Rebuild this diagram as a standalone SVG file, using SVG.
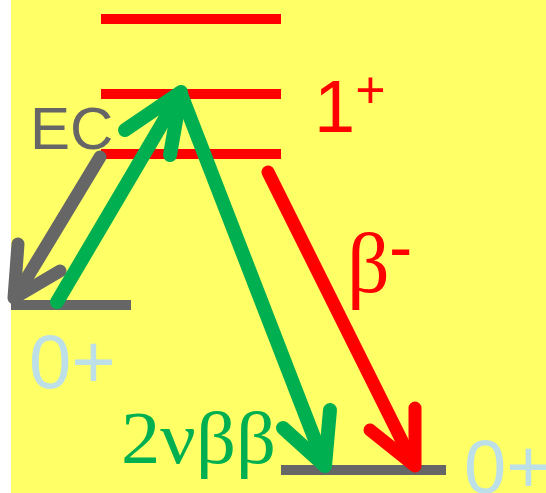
<svg xmlns="http://www.w3.org/2000/svg" width="546" height="493" viewBox="0 0 546 493">
<style>
.lvl{stroke-width:10;stroke-linecap:butt;fill:none}
.arr{stroke-width:13;stroke-linecap:round;stroke-linejoin:round;fill:none}
.grn{stroke-width:14}
.sans{font-family:"Liberation Sans",Arial,sans-serif}
.serif{font-family:"Liberation Serif","Times New Roman",serif}
</style>
<rect x="11" y="0" width="535" height="493" fill="#FFFF66"/>
<g id="levels">
<g id="level-top"><line class="lvl" x1="101" y1="19" x2="281" y2="19" stroke="#FF0000"/></g>
<g id="level-1plus-a"><line class="lvl" x1="101" y1="94" x2="281" y2="94" stroke="#FF0000"/></g>
<g id="level-1plus-b"><line class="lvl" x1="101" y1="154" x2="281" y2="154" stroke="#FF0000"/></g>
<g id="level-left-0"><line class="lvl" x1="11" y1="305" x2="131" y2="305" stroke="#666666"/></g>
<g id="level-right-0"><line class="lvl" x1="281" y1="470" x2="446" y2="470" stroke="#666666"/></g>
</g>
<g id="connectors">
<g id="ec-arrow" stroke="#666666">
<line class="arr" x1="100" y1="157" x2="16" y2="296" stroke-linecap="butt"/>
<polyline class="arr" points="18,244 14,298 60,271"/>
</g>
<g id="green-up" stroke="#00B050">
<line class="arr grn" x1="57" y1="302" x2="179" y2="95" stroke-linecap="butt"/>
<polyline class="arr grn" points="125,130 181,92 170,155"/>
</g>
<g id="green-down" stroke="#00B050">
<line class="arr grn" x1="181" y1="94" x2="324" y2="463"/>
<polyline class="arr grn" points="283,428 325,466 330,410"/>
</g>
<g id="beta-arrow" stroke="#FF0000">
<line class="arr" x1="268" y1="172" x2="413" y2="463" stroke-linecap="butt"/>
<polyline class="arr" points="370,430 415,466 415,408"/>
</g>
</g>
<g id="labels">
<text class="sans" x="30" y="149" font-size="60" fill="#666666">EC</text>
<text class="sans" x="314" y="132" font-size="74" fill="#FF0000">1<tspan font-size="52" dy="-24">+</tspan></text>
<text class="serif" x="347" y="292" font-size="84" fill="#FF0000">β<tspan class="sans" x="389" y="271" font-size="70">-</tspan></text>
<text class="serif" x="121" y="463" font-size="75" fill="#00B050" textLength="155" lengthAdjust="spacingAndGlyphs">2νββ</text>
<text class="sans" x="29" y="388" font-size="76" fill="#BDE0E8">0+</text>
<text class="sans" x="464" y="493" font-size="76" fill="#BDE0E8">0+</text>
</g>
</svg>
